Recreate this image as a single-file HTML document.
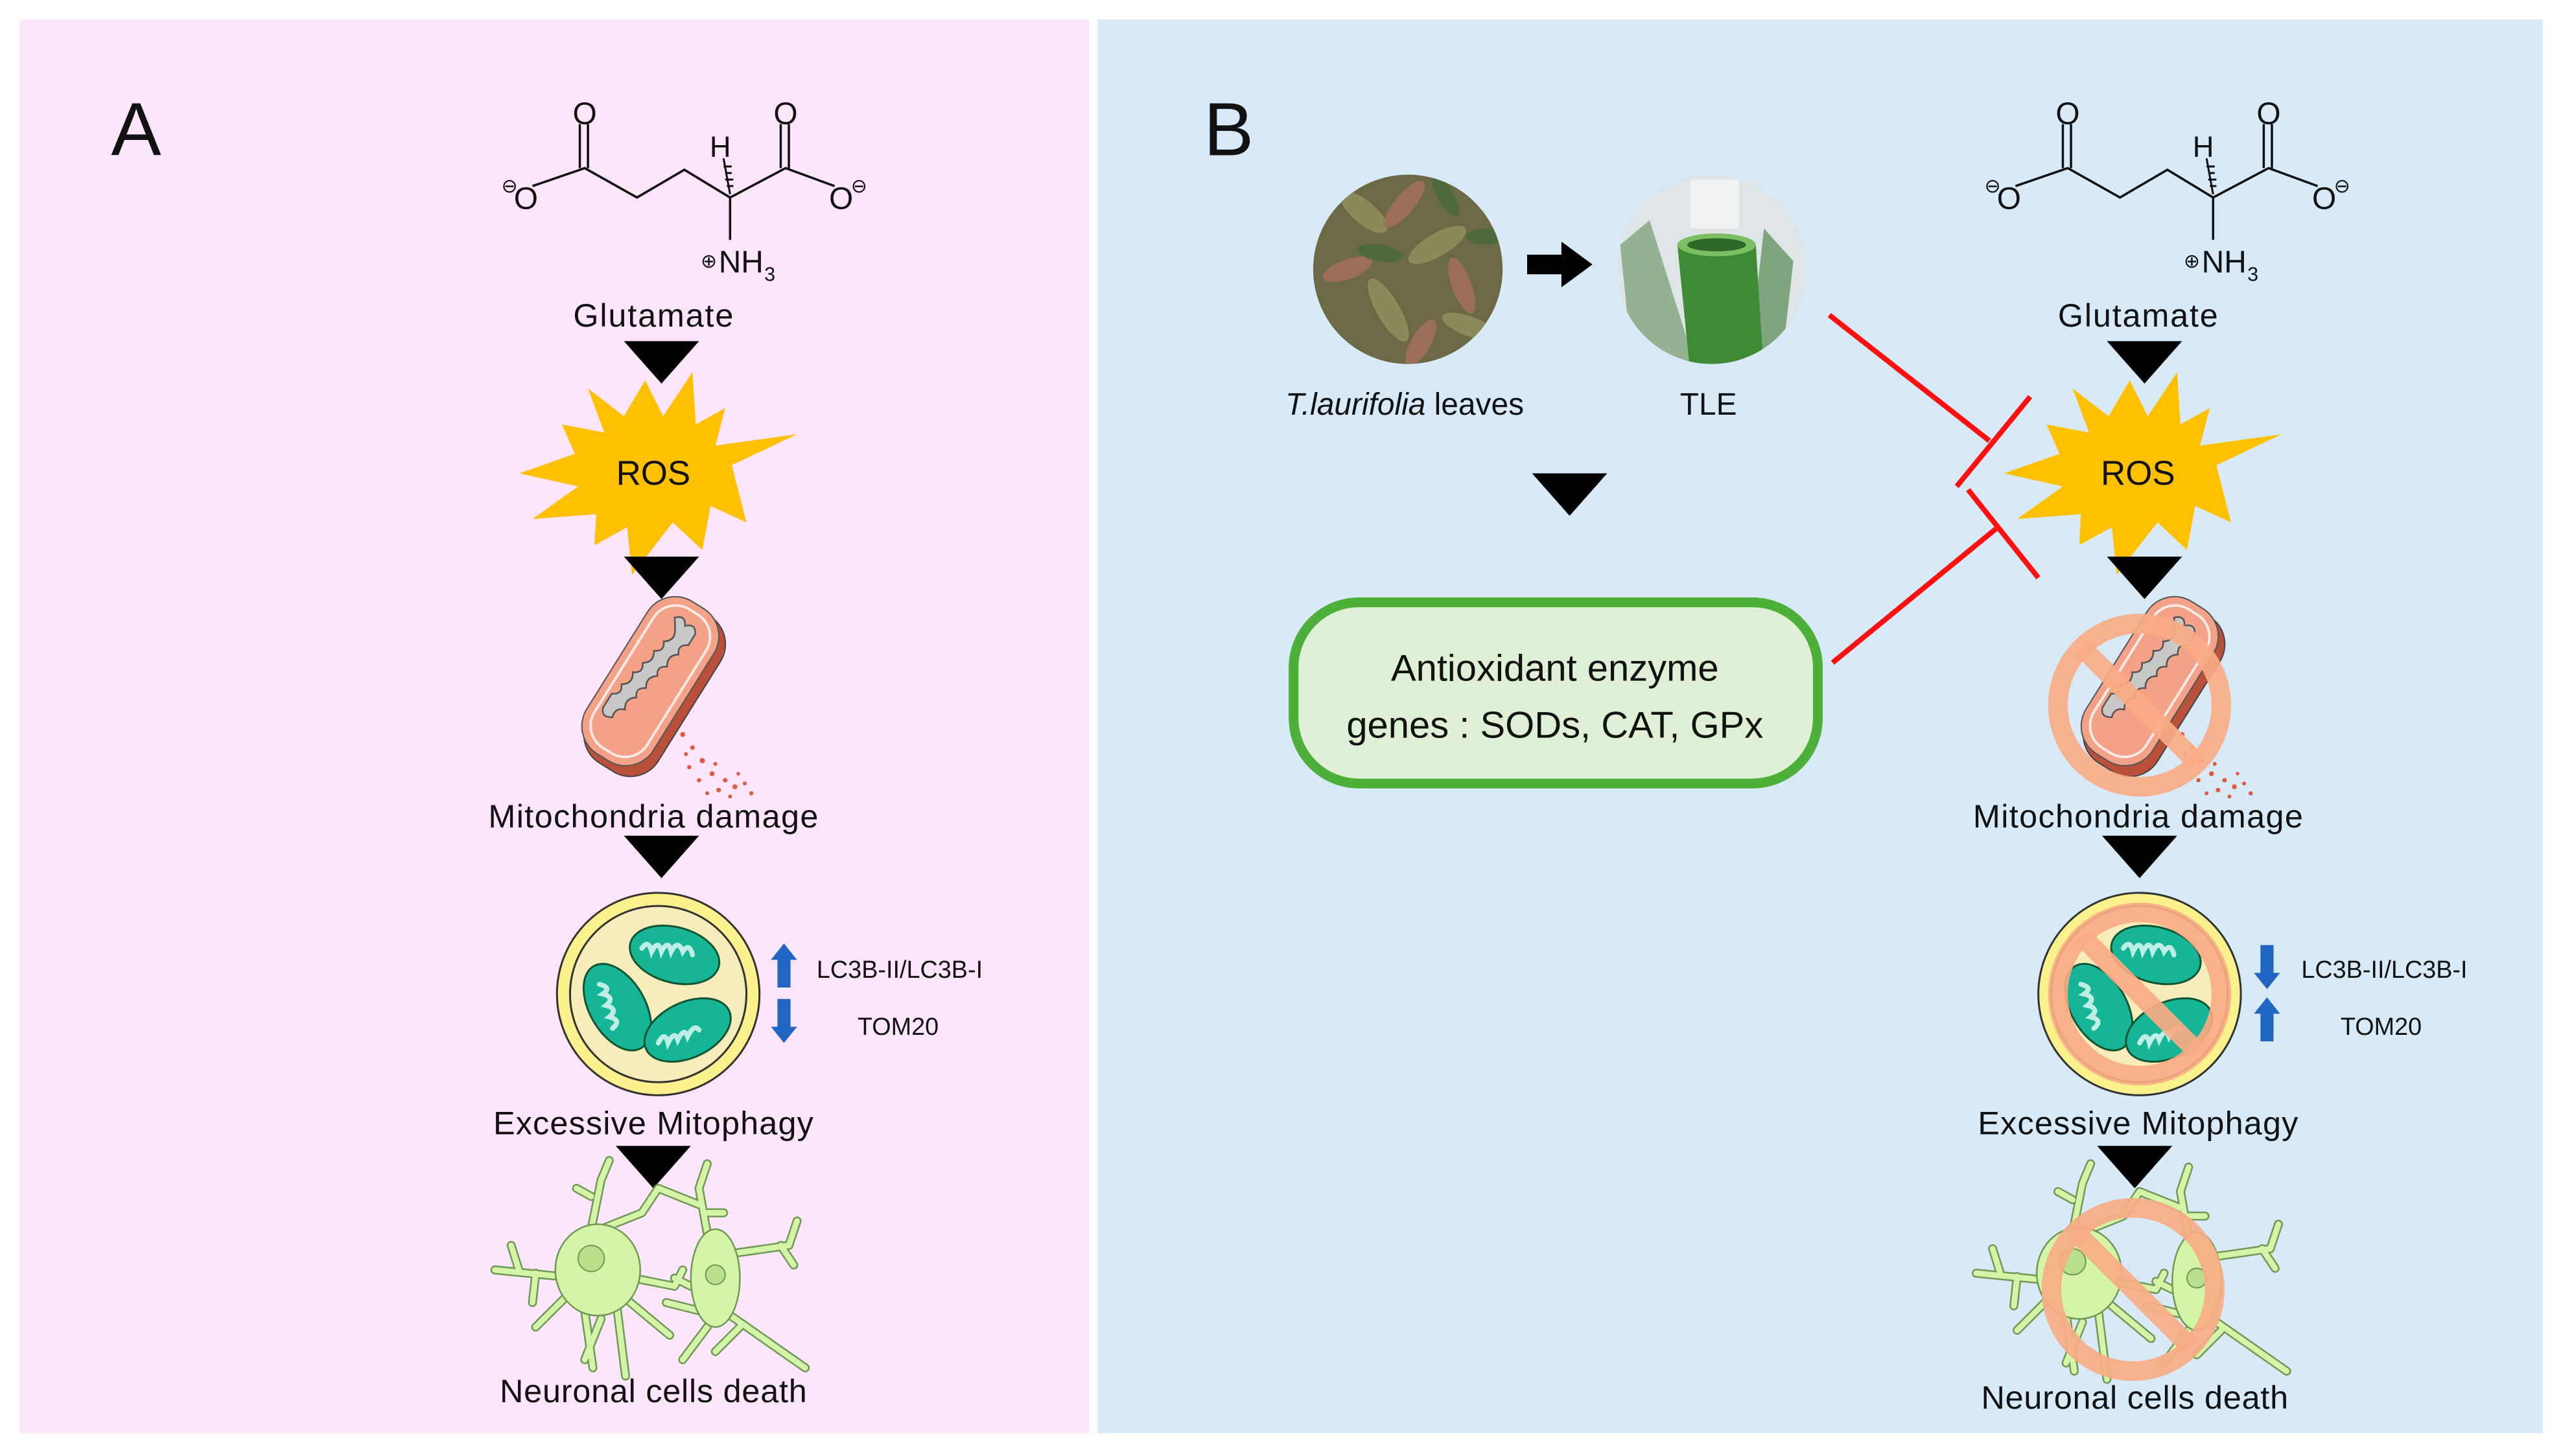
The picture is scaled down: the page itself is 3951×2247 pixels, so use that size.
<!DOCTYPE html>
<html><head><meta charset="utf-8"><style>
html,body{margin:0;padding:0;background:#fff}
svg{display:block}
text{font-family:"Liberation Sans",sans-serif;fill:#111}
</style></head><body>
<svg width="3951" height="2247" viewBox="0 0 1568 892" preserveAspectRatio="none" xmlns="http://www.w3.org/2000/svg">
<defs>
<g id="star"><polygon fill="#ffc000" points="-5,-57 6,-35 24,-62 26,-30 44,-40 38,-17 88,-24 48,-5 57,30 35,20 30,47 12,30 -13,62 -16,33 -36,44 -35,25 -74,28 -46,8 -82,0 -48,-12 -56,-30 -30,-25 -40,-52 -18,-35"/></g>
<g id="tri"><polygon points="-23,0 23,0 0,26" fill="#000"/></g>
<g id="mol" fill="none" stroke="#111" stroke-width="1.4">
<polyline points="326,114 358,103 390,121 419,104 447,121 481,103 511,114"/>
<line x1="355" y1="103" x2="355" y2="76"/><line x1="360" y1="103" x2="360" y2="76"/>
<line x1="478" y1="103" x2="478" y2="76"/><line x1="483" y1="103" x2="483" y2="76"/>
<line x1="447" y1="121" x2="447" y2="147"/>
<path d="M447,119 L443,97 M445,114h4 M444,110h5 M444,106h4 M443,102h5" stroke-width="1.2"/>
</g>
<g id="moltext">
<text x="358" y="76" font-size="19" text-anchor="middle">O</text>
<text x="481" y="76" font-size="19" text-anchor="middle">O</text>
<text x="322" y="128" font-size="19" text-anchor="middle">O</text>
<text x="515" y="128" font-size="19" text-anchor="middle">O</text>
<text x="312" y="118" font-size="12" text-anchor="middle">⊖</text>
<text x="526" y="118" font-size="12" text-anchor="middle">⊖</text>
<text x="441" y="96" font-size="18" text-anchor="middle">H</text>
<text x="429" y="164" font-size="12">⊕</text>
<text x="440" y="167" font-size="19">NH</text><text x="468" y="172" font-size="12">3</text>
</g>
<g id="mito">
<g fill="#e25a3e">
<circle cx="18" cy="28" r="1.5"/><circle cx="24" cy="36" r="1.4"/><circle cx="30" cy="44" r="1.6"/><circle cx="22" cy="48" r="1.3"/><circle cx="36" cy="52" r="1.5"/><circle cx="44" cy="56" r="1.4"/><circle cx="28" cy="56" r="1.3"/><circle cx="50" cy="60" r="1.5"/><circle cx="40" cy="62" r="1.4"/><circle cx="56" cy="58" r="1.2"/><circle cx="33" cy="64" r="1.2"/><circle cx="60" cy="64" r="1.3"/><circle cx="47" cy="66" r="1.2"/><circle cx="20" cy="40" r="1.2"/><circle cx="38" cy="46" r="1.2"/><circle cx="14" cy="22" r="1.2"/><circle cx="52" cy="52" r="1.1"/>
</g>
<g transform="rotate(32)">
<rect x="-24" y="-56" width="50" height="112" rx="20" fill="#b9503a" stroke="#444" stroke-width="0.8"/>
<rect x="-28" y="-58" width="48" height="110" rx="20" fill="#f3a288" stroke="#555" stroke-width="0.8"/>
<rect x="-23" y="-53" width="38" height="100" rx="16" fill="none" stroke="#fff" stroke-width="1.5" stroke-opacity="0.8"/>
<path d="M-12,-44 q5,-5 8,1 q5,-5 8,1 l0,8 q-6,3 -2,8 q-6,4 -2,10 q-6,3 -2,8 q-6,4 -2,10 q-6,3 -2,8 q-6,4 -2,10 q-6,2 -4,8 q-6,4 -8,-2 l0,-10 q6,-3 2,-8 q6,-4 2,-10 q6,-3 2,-8 q6,-4 2,-10 q6,-3 2,-8 q6,-4 2,-10 Z" fill="#c8c8c8" stroke="#555" stroke-width="1"/>
</g>
</g>
<g id="mphg">
<circle r="62" fill="#fbf28e" stroke="#333" stroke-width="1.2"/>
<circle r="54" fill="#f7edba" stroke="#333" stroke-width="1.2"/>
<g fill="#17b597" stroke="#153" stroke-width="1.2">
<ellipse cx="10" cy="-24" rx="28" ry="17" transform="rotate(15 10 -24)"/>
<ellipse cx="-25" cy="8" rx="17" ry="29" transform="rotate(-30 -25 8)"/>
<ellipse cx="18" cy="22" rx="28" ry="17" transform="rotate(-25 18 22)"/>
</g>
<g fill="none" stroke="#bfeee4" stroke-width="3" stroke-linecap="round">
<path d="M-10,-28 q4,-6 6,2 q4,-8 6,0 q4,-8 6,0 q4,-8 7,0 q4,-6 6,2"/>
<path d="M-36,-6 q8,2 2,6 q8,2 2,7 q8,2 2,7 q8,2 2,7"/>
<path d="M0,30 q4,-8 6,0 q4,-8 6,-2 q4,-8 6,-2 q4,-8 7,-4"/>
</g>
</g>
<g id="neur" stroke-linecap="round" stroke-linejoin="round" fill="none">
<g stroke="#6f9a55" stroke-width="5.5">
<path d="M-40,-10 L-30,-60 L-25,-72 M-36,-50 L-45,-55 M-30,-30 L-5,-40 L5,-55 L30,-45 M-45,0 L-95,-5 M-80,-4 L-85,-20 M-70,-3 L-72,15 M-50,10 L-70,30 M-40,20 L-35,55 M-20,20 L-15,60 M-30,25 L-40,50 M-10,0 L15,5 L20,-5 M-12,15 L12,35"/>
<path d="M40,0 L30,-55 L35,-70 M35,-40 L45,-40 M50,-15 L85,-20 L90,-35 M80,-20 L88,-8 M45,20 L95,55 M55,30 L40,45 M30,20 L10,15 M25,5 L15,0 M35,30 L20,50"/>
</g>
<g stroke="#d4f5a8" stroke-width="3.5">
<path d="M-40,-10 L-30,-60 L-25,-72 M-36,-50 L-45,-55 M-30,-30 L-5,-40 L5,-55 L30,-45 M-45,0 L-95,-5 M-80,-4 L-85,-20 M-70,-3 L-72,15 M-50,10 L-70,30 M-40,20 L-35,55 M-20,20 L-15,60 M-30,25 L-40,50 M-10,0 L15,5 L20,-5 M-12,15 L12,35"/>
<path d="M40,0 L30,-55 L35,-70 M35,-40 L45,-40 M50,-15 L85,-20 L90,-35 M80,-20 L88,-8 M45,20 L95,55 M55,30 L40,45 M30,20 L10,15 M25,5 L15,0 M35,30 L20,50"/>
</g>
<ellipse cx="-32" cy="-5" rx="26" ry="28" fill="#d4f5a8" stroke="#6f9a55" stroke-width="1"/>
<ellipse cx="40" cy="0" rx="15" ry="30" fill="#d4f5a8" stroke="#6f9a55" stroke-width="1"/>
<circle cx="-36" cy="-12" r="8" fill="#b8e08c" stroke="#6f9a55" stroke-width="0.8"/>
<circle cx="40" cy="-2" r="6" fill="#b8e08c" stroke="#6f9a55" stroke-width="0.8"/>
</g>
<g id="up"><path d="M0,-14 L8,-4 L4,-4 L4,13 L-4,13 L-4,-4 L-8,-4 Z" fill="#2166c4"/></g>
<g id="dn"><path d="M0,14 L8,4 L4,4 L4,-13 L-4,-13 L-4,4 L-8,4 Z" fill="#2166c4"/></g>
<g id="no" fill="none" stroke="#f9ab84" stroke-opacity="0.92" stroke-width="12"><circle r="50"/><line x1="-35" y1="-35" x2="35" y2="35"/></g>
<clipPath id="c1"><ellipse cx="862" cy="165" rx="58" ry="58"/></clipPath>
<clipPath id="c2"><ellipse cx="1048" cy="165" rx="58" ry="58"/></clipPath>
</defs>

<rect x="12" y="12" width="655" height="866" fill="#fde6fb"/>
<rect x="672" y="12" width="885" height="866" fill="#d8eaf8"/>

<text x="68" y="95" font-size="46">A</text>
<text x="737" y="95" font-size="46">B</text>

<!-- Panel A -->
<use href="#mol"/><use href="#moltext"/>
<text x="400" y="200" font-size="20" text-anchor="middle" textLength="98">Glutamate</text>
<use href="#tri" x="405" y="209"/>
<use href="#star" x="400" y="290"/>
<text x="400" y="297" font-size="21" text-anchor="middle">ROS</text>
<use href="#tri" x="405" y="341"/>
<use href="#mito" x="400" y="422"/>
<text x="400" y="507" font-size="20" text-anchor="middle" textLength="202">Mitochondria damage</text>
<use href="#tri" x="405" y="512"/>
<use href="#mphg" x="403" y="609"/>
<use href="#up" x="480" y="592"/><use href="#dn" x="480" y="625"/>
<text x="500" y="599" font-size="15">LC3B-II/LC3B-I</text>
<text x="525" y="634" font-size="15">TOM20</text>
<text x="400" y="695" font-size="20" text-anchor="middle" textLength="196">Excessive Mitophagy</text>
<use href="#tri" x="400" y="702"/>
<use href="#neur" x="398" y="783"/>
<text x="400" y="859" font-size="20" text-anchor="middle" textLength="188">Neuronal cells death</text>

<!-- Panel B -->
<g clip-path="url(#c1)">
<rect x="800" y="105" width="125" height="125" fill="#6b6a45"/>
<g fill="#8a8a5a"><ellipse cx="835" cy="130" rx="18" ry="7" transform="rotate(40 835 130)"/><ellipse cx="880" cy="150" rx="20" ry="7" transform="rotate(-30 880 150)"/><ellipse cx="850" cy="190" rx="22" ry="7" transform="rotate(60 850 190)"/><ellipse cx="900" cy="200" rx="18" ry="6" transform="rotate(20 900 200)"/></g>
<g fill="#9a6e58"><ellipse cx="860" cy="125" rx="18" ry="6" transform="rotate(-50 860 125)"/><ellipse cx="895" cy="175" rx="18" ry="6" transform="rotate(70 895 175)"/><ellipse cx="825" cy="165" rx="16" ry="6" transform="rotate(-20 825 165)"/><ellipse cx="870" cy="210" rx="16" ry="6" transform="rotate(-60 870 210)"/></g>
<g fill="#4f6a3a"><ellipse cx="845" cy="155" rx="14" ry="5" transform="rotate(10 845 155)"/><ellipse cx="885" cy="120" rx="14" ry="5" transform="rotate(60 885 120)"/><ellipse cx="910" cy="145" rx="12" ry="5"/></g>
</g>
<g clip-path="url(#c2)">
<rect x="985" y="105" width="125" height="125" fill="#dfe5e6"/>
<path d="M992,150 L1010,135 L1040,230 L1000,230 Z" fill="#5f8f5a" opacity="0.6"/>
<path d="M1080,140 L1098,160 L1090,230 L1070,230 Z" fill="#3f7a3a" opacity="0.6"/>
<path d="M1027,150 L1075,150 L1080,230 L1035,230 Z" fill="#3f8a35"/>
<ellipse cx="1051" cy="150" rx="24" ry="7" fill="#7cbf62"/>
<ellipse cx="1051" cy="150" rx="18" ry="4" fill="#2d6a2a"/>
<rect x="1035" y="110" width="30" height="30" fill="#f2f4f4" opacity="0.8"/>
<circle cx="1098" cy="125" r="5" fill="#2a7ac8"/>
</g>
<path d="M935,156 L956,156 L956,148 L975,162 L956,176 L956,168 L935,168 Z" fill="#000"/>
<text x="860" y="254" font-size="19" text-anchor="middle"><tspan font-style="italic">T.laurifolia</tspan> leaves</text>
<text x="1046" y="254" font-size="19" text-anchor="middle">TLE</text>
<use href="#tri" x="961" y="290"/>
<rect x="792" y="369" width="321" height="111" rx="40" fill="#dff0d6" stroke="#4cb03a" stroke-width="6"/>
<text x="952" y="417" font-size="23" text-anchor="middle">Antioxidant enzyme</text>
<text x="952" y="452" font-size="23" text-anchor="middle">genes : SODs, CAT, GPx</text>
<g stroke="#ff1010" stroke-width="3.2">
<line x1="1120" y1="193" x2="1218" y2="270"/><line x1="1243" y1="243" x2="1198" y2="298"/>
<line x1="1122" y1="406" x2="1222" y2="324"/><line x1="1205" y1="300" x2="1248" y2="354"/>
</g>
<use href="#mol" x="908"/><use href="#moltext" x="908"/>
<text x="1309" y="200" font-size="20" text-anchor="middle" textLength="98">Glutamate</text>
<use href="#tri" x="1313" y="209"/>
<use href="#star" x="1309" y="290"/>
<text x="1309" y="297" font-size="21" text-anchor="middle">ROS</text>
<use href="#tri" x="1313" y="341"/>
<use href="#mito" x="1318" y="422"/>
<use href="#no" x="1310" y="432"/>
<text x="1309" y="507" font-size="20" text-anchor="middle" textLength="202">Mitochondria damage</text>
<use href="#tri" x="1310" y="512"/>
<use href="#mphg" x="1310" y="609"/>
<use href="#no" x="1310" y="609"/>
<use href="#dn" x="1388" y="592"/><use href="#up" x="1388" y="625"/>
<text x="1409" y="599" font-size="15">LC3B-II/LC3B-I</text>
<text x="1433" y="634" font-size="15">TOM20</text>
<text x="1309" y="695" font-size="20" text-anchor="middle" textLength="196">Excessive Mitophagy</text>
<use href="#tri" x="1307" y="702"/>
<use href="#neur" x="1305" y="785"/>
<use href="#no" x="1306" y="790"/>
<text x="1307" y="863" font-size="20" text-anchor="middle" textLength="188">Neuronal cells death</text>
</svg>
</body></html>
